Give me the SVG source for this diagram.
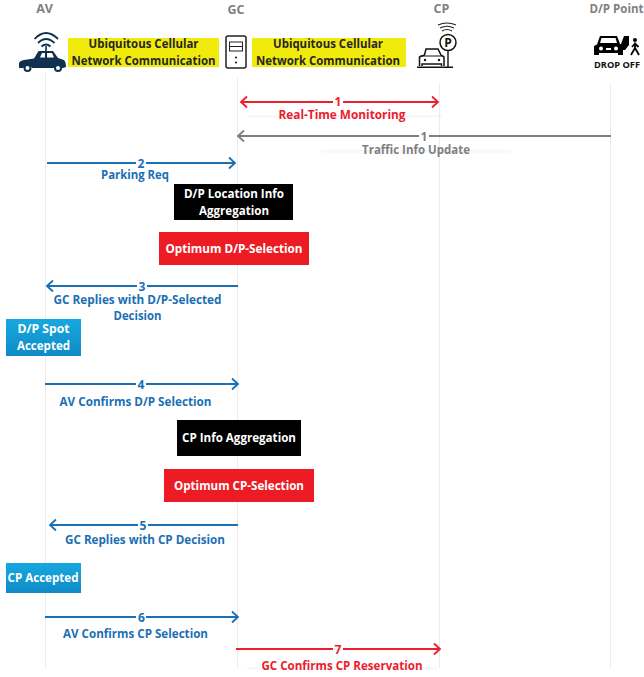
<svg xmlns="http://www.w3.org/2000/svg" width="644" height="677" viewBox="0 0 644 677">
<defs>
<linearGradient id="bg" x1="0" y1="0" x2="0" y2="1"><stop offset="0" stop-color="#17a8e0"/><stop offset="1" stop-color="#0f8bc6"/></linearGradient>
<linearGradient id="sh" x1="0" y1="0" x2="0" y2="1"><stop offset="0" stop-color="#f6f6f6"/><stop offset="1" stop-color="#fbfbfb"/></linearGradient>
<marker id="ab" markerUnits="userSpaceOnUse" markerWidth="10" markerHeight="14" refX="8" refY="7" orient="auto-start-reverse"><path d="M2 1.500L8 7L2 12.500" fill="none" stroke="#1b6fb5" stroke-width="1.800"/></marker>
<marker id="ar" markerUnits="userSpaceOnUse" markerWidth="10" markerHeight="14" refX="8" refY="7" orient="auto-start-reverse"><path d="M2 1.500L8 7L2 12.500" fill="none" stroke="#ed1c2e" stroke-width="1.800"/></marker>
<marker id="ag" markerUnits="userSpaceOnUse" markerWidth="10" markerHeight="14" refX="8" refY="7" orient="auto-start-reverse"><path d="M2 1.500L8 7L2 12.500" fill="none" stroke="#7f7f7f" stroke-width="1.800"/></marker>
</defs>
<style>
text{font-family:"Open Sans","Noto Sans","Liberation Sans",sans-serif;font-weight:700;text-anchor:middle}
.h{font-size:12.500px;fill:#7f7f7f}
.y{font-size:12px;fill:#262626}
.b{font-size:12px;fill:#1b6fb5}
.r{font-size:12px;fill:#ed1c2e}
.g{font-size:12px;fill:#7f7f7f}
.w{font-size:12px;fill:#fff}
.life{stroke:#ececec;stroke-width:1;fill:none}
.c{fill:none;stroke-width:1.800}
.cb{stroke:#1b6fb5}.cr{stroke:#ed1c2e}.cg{stroke:#7f7f7f}
.n{font-size:12px}
.num{fill:#fff;stroke:none}
</style>
<rect x="247" y="115" width="195" height="3" fill="url(#sh)"/>
<rect x="321" y="150" width="190" height="3" fill="url(#sh)"/>
<rect x="247" y="667" width="190" height="3" fill="url(#sh)"/>
<g id="lifelines">
<path class="life" d="M45.500 73V668"/><path class="life" d="M237.500 78V668"/><path class="life" d="M439.500 83V668"/><path class="life" d="M610.500 83V668"/>
</g>
<g id="node-av"><text class="h" x="44.500" y="13">AV</text>
<path d="M34.500 39Q46 27 58 39M38 43Q46 35 54.500 43M41.500 46.500Q46 42.500 50.500 46.500" fill="none" stroke="#10304f" stroke-width="1.800"/>
<path d="M46 46V52" stroke="#10304f" stroke-width="1.600"/>
<path d="M19 68V63Q20 60.500 24 60L34 58.500L38.500 51H53L58 58L64 60Q66 62 66 67L63 68H62a4.500 4.500 0 0 0-8 0H32a4.500 4.500 0 0 0-8.500 0Z" fill="#10304f"/>
<path d="M40 57.500L42 53H45V57.500ZM47 57.500V53H52L54 57.500Z" fill="#fff"/>
<circle cx="27.500" cy="68" r="3" fill="#fff" stroke="#10304f" stroke-width="2"/><circle cx="58" cy="68" r="3" fill="#fff" stroke="#10304f" stroke-width="2"/>
</g>
<g id="note-cell-1"><rect x="68" y="38" width="151" height="29" fill="#f1eb0c"/><text class="y" x="143.500" y="48" textLength="110" lengthAdjust="spacingAndGlyphs">Ubiquitous Cellular</text><text class="y" x="143.500" y="65" textLength="144" lengthAdjust="spacingAndGlyphs">Network Communication</text></g>
<g id="node-gc"><text class="h" x="236" y="14">GC</text>
<rect x="226" y="36" width="20" height="32" rx="2" fill="#fff" stroke="#222" stroke-width="1.500"/><rect x="229.500" y="42" width="13" height="9" fill="none" stroke="#222"/><path d="M229.500 46.500H242.500" stroke="#222"/><circle cx="236" cy="57.500" r="1.100" fill="#222"/><circle cx="236" cy="62.500" r="1.100" fill="#222"/>
</g>
<g id="note-cell-2"><rect x="252" y="38" width="154" height="29" fill="#f1eb0c"/><text class="y" x="328" y="48" textLength="110" lengthAdjust="spacingAndGlyphs">Ubiquitous Cellular</text><text class="y" x="328" y="65" textLength="144" lengthAdjust="spacingAndGlyphs">Network Communication</text></g>
<g id="node-cp"><text class="h" x="441.500" y="13">CP</text>
<path d="M438 25Q447 21 456 25M440 28Q447 24.500 454 28M442 31Q447 28 452 31" fill="none" stroke="#222" stroke-width="1.200"/>
<circle cx="448" cy="42.500" r="8" fill="#fff" stroke="#111" stroke-width="1.500"/><text x="448" y="47" style="font-size:12px;fill:#111">P</text>
<path d="M448 51V67M417 67.200H453" stroke="#111" stroke-width="1.400"/>
<path d="M419.500 66V57L424.500 55L426 49H438L441 55L444 57V66M422 66V64H441.500V66" fill="#fff" stroke="#111" stroke-width="1.500"/><path d="M420 56H443.500" stroke="#111"/><circle cx="425" cy="60" r="1.200" fill="#111"/><circle cx="439" cy="60" r="1.200" fill="#111"/>
</g>
<g id="node-dp"><text class="h" x="616.500" y="13" textLength="54" lengthAdjust="spacingAndGlyphs">D/P Point</text>
<path d="M594 55V46L597 44.500L600 36H617L620 44L623 45V55H618V53H599V55Z" fill="#000"/>
<path d="M601.500 38H615.500L617 43H600Z" fill="#fff"/><circle cx="601" cy="48.500" r="2" fill="#fff"/><circle cx="616" cy="48.500" r="2" fill="#fff"/><path d="M606 48H611V50H606Z" fill="#fff"/>
<path d="M621 50V44L624 36H629V45L625 50Z" fill="#000"/>
<circle cx="635" cy="40" r="2" fill="#000"/><path d="M635 42.500V48L631 55M635 48L639 55M632 47L635 43.500L638.500 47" fill="none" stroke="#000" stroke-width="1.800"/>
<text x="617" y="68" style="font-size:8px;fill:#111" textLength="46" lengthAdjust="spacingAndGlyphs">DROP OFF</text>
</g>
<g id="connectors">
<path class="c cr" d="M241 102H438" marker-start="url(#ar)" marker-end="url(#ar)"/>
<path class="c cg" d="M611 136H238" marker-end="url(#ag)"/>
<path class="c cb" d="M47 163H235" marker-end="url(#ab)"/>
<path class="c cb" d="M238 286H47" marker-end="url(#ab)"/>
<path class="c cb" d="M45 384H238" marker-end="url(#ab)"/>
<path class="c cb" d="M238 525H50" marker-end="url(#ab)"/>
<path class="c cb" d="M45 617H238" marker-end="url(#ab)"/>
<path class="c cr" d="M236 649H440" marker-end="url(#ar)"/>
</g>
<g id="labels">
<rect class="num" x="333" y="96" width="10" height="12"/><text class="r n" x="338" y="106">1</text><text class="r" x="342" y="119" textLength="127" lengthAdjust="spacingAndGlyphs">Real-Time Monitoring</text>
<rect class="num" x="419" y="130" width="10" height="12"/><text class="g n" x="424" y="140.500">1</text><text class="g" x="416" y="154" textLength="108" lengthAdjust="spacingAndGlyphs">Traffic Info Update</text>
<rect class="num" x="136" y="157" width="10" height="12"/><text class="b n" x="141" y="167.500">2</text><text class="b" x="135" y="179" textLength="68" lengthAdjust="spacingAndGlyphs">Parking Req</text>
<rect class="num" x="137" y="280" width="10" height="12"/><text class="b n" x="142" y="290.500">3</text><text class="b" x="137.500" y="304" textLength="168" lengthAdjust="spacingAndGlyphs">GC Replies with D/P-Selected</text><text class="b" x="137.500" y="320" textLength="48" lengthAdjust="spacingAndGlyphs">Decision</text>
<rect class="num" x="136" y="378" width="10" height="12"/><text class="b n" x="141" y="388.500">4</text><text class="b" x="135.500" y="406" textLength="152" lengthAdjust="spacingAndGlyphs">AV Confirms D/P Selection</text>
<rect class="num" x="138" y="519" width="10" height="12"/><text class="b n" x="143" y="529.500">5</text><text class="b" x="145" y="544" textLength="160" lengthAdjust="spacingAndGlyphs">GC Replies with CP Decision</text>
<rect class="num" x="136" y="611" width="10" height="12"/><text class="b n" x="141.500" y="621.500">6</text><text class="b" x="135.500" y="638" textLength="145" lengthAdjust="spacingAndGlyphs">AV Confirms CP Selection</text>
<rect class="num" x="333" y="643" width="10" height="12"/><text class="r n" x="338" y="653.500">7</text><text class="r" x="342" y="670" textLength="161" lengthAdjust="spacingAndGlyphs">GC Confirms CP Reservation</text>
</g>
<g id="box-dp-info"><rect x="174" y="184" width="119" height="36" fill="#000"/><text class="w" x="234" y="198" textLength="100" lengthAdjust="spacingAndGlyphs">D/P Location Info</text><text class="w" x="234" y="215" textLength="70" lengthAdjust="spacingAndGlyphs">Aggregation</text></g>
<g id="box-dp-sel"><rect x="159" y="232" width="150" height="33" fill="#ed1c24"/><text class="w" x="234" y="253" textLength="137" lengthAdjust="spacingAndGlyphs">Optimum D/P-Selection</text></g>
<g id="box-dp-acc"><rect x="6" y="319" width="75" height="37" fill="url(#bg)"/><text class="w" x="43.500" y="333" textLength="52" lengthAdjust="spacingAndGlyphs">D/P Spot</text><text class="w" x="43.500" y="350" textLength="53" lengthAdjust="spacingAndGlyphs">Accepted</text></g>
<g id="box-cp-info"><rect x="177" y="420" width="124" height="36" fill="#000"/><text class="w" x="239" y="442" textLength="114" lengthAdjust="spacingAndGlyphs">CP Info Aggregation</text></g>
<g id="box-cp-sel"><rect x="164" y="469" width="150" height="33" fill="#ed1c24"/><text class="w" x="239" y="490" textLength="130" lengthAdjust="spacingAndGlyphs">Optimum CP-Selection</text></g>
<g id="box-cp-acc"><rect x="6" y="563" width="75" height="30" fill="url(#bg)"/><text class="w" x="43" y="582" textLength="71" lengthAdjust="spacingAndGlyphs">CP Accepted</text></g>
</svg>
